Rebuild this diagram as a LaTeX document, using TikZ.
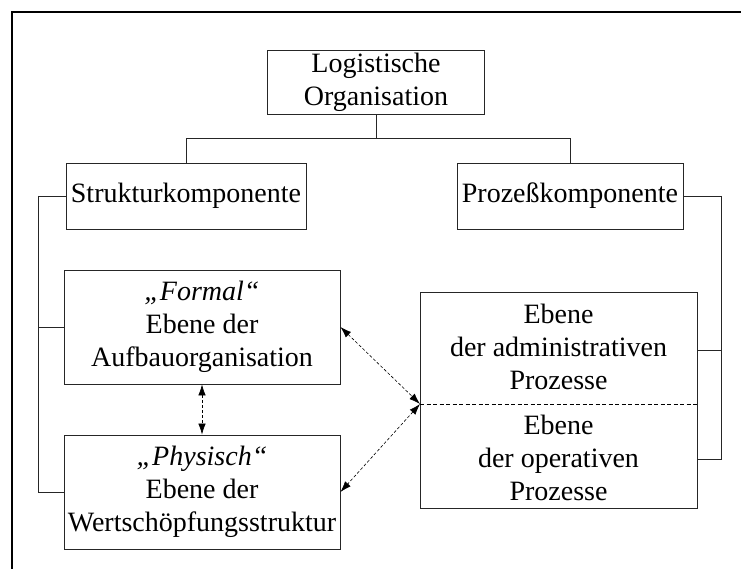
\documentclass[tikz,border=0pt]{standalone}
\usepackage{fontspec}
\setmainfont{Liberation Serif}
\usetikzlibrary{arrows.meta}
\begin{document}
\begin{tikzpicture}[x=1pt,y=-1pt,
  box/.style={draw=black!85, line width=0.9pt, align=center, inner sep=0pt,
    font=\fontsize{28}{33}\selectfont},
  txt/.style={align=center, inner sep=0pt, font=\fontsize{28}{33}\selectfont},
  link/.style={draw=black!85, line width=0.9pt},
  rel/.style={line width=0.6pt, dash pattern=on 3pt off 2pt,
    {Latex[length=11pt,width=7.5pt]}-{Latex[length=11pt,width=7.5pt]}},
  divider/.style={line width=0.6pt, dash pattern=on 4pt off 2.5pt}]
\useasboundingbox (0,0) rectangle (741,569);
% frame (top and left edges)
\draw[line width=1.3pt] (741,12) -- (12,12) -- (12,569);
% nodes
\node[box, minimum width=217, minimum height=64] (top) at (376,82) {Logistische\\Organisation};
\node[box, minimum width=240, minimum height=66] (sk) at (186,196) {Strukturkomponente};
\node[box, minimum width=226, minimum height=66] (pk) at (570,196) {Prozeßkomponente};
\node[box, minimum width=276, minimum height=114] (formal) at (202,327) {\textit{„Formal“}\\Ebene der\\Aufbauorganisation};
\node[box, minimum width=276, minimum height=114] (phys) at (202,492) {\textit{„Physisch“}\\Ebene der\\Wertschöpfungsstruktur};
\node[box, minimum width=277, minimum height=216] (proc) at (558.5,400) {};
\node[txt] (adm) at (558.5,347) {Ebene\\der administrativen\\Prozesse};
\node[txt] (op) at (558.5,458) {Ebene\\der operativen\\Prozesse};
\coordinate (divW) at (420,404);
\coordinate (divE) at (697,404);
\draw[divider] (divW) -- (divE);
% tree connectors
\draw[link] (top.south) -- ++(0,24) -| (sk.north);
\draw[link] (top.south) ++(0,24) -| (pk.north);
% left bracket
\draw[link] (sk.west) -- ++(-27,0) |- (formal.west);
\draw[link] (sk.west) ++(-27,0) |- (phys.west);
% right bracket
\draw[link] (pk.east) -- ++(38,0) |- (proc.east |- 0,350);
\draw[link] (pk.east) ++(38,0) |- (proc.east |- 0,459);
% relations
\draw[rel] (formal.south) -- (phys.north);
\draw[rel] (formal.east) -- (divW);
\draw[rel] (divW) -- (phys.east);
\end{tikzpicture}
\end{document}
